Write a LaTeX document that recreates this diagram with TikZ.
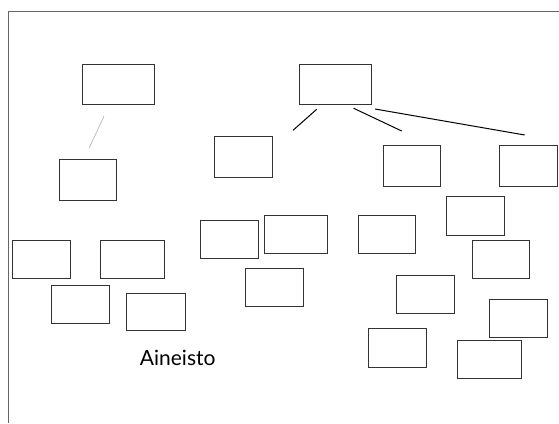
\documentclass[tikz,border=0pt]{standalone}
\usepackage{fontspec}
\newfontfamily\labelfont{Lato}
\usepackage{tikz}
\usetikzlibrary{positioning}
\tikzset{
  box/.style   = {draw=black!80, line width=1pt, inner sep=0pt, minimum width=58pt, minimum height=38pt},
  wide/.style  = {minimum width=72pt, minimum height=40pt},
  line/.style  = {line width=1pt, black},
  faint/.style = {line width=0.8pt, black!25},
  frame/.style = {line width=1pt, black!60},
}
\begin{document}
\begin{tikzpicture}[x=1pt,y=-1pt]
    \useasboundingbox (0,0) rectangle (559,423);
    \draw[frame] (559,11) -- (8,11) -- (8,423);

    % left tree
    \node[box,wide] (lroot) at (118,84) {};
    \node[box,minimum height=41pt,minimum width=57pt] (lmid) at (87.5,179.5) {};
    \node[box] (la) at (41,259) {};
    \node[box,minimum width=64pt] (lb) at (132,259) {};
    \node[box] (lc) at (80,304) {};
    \node[box,minimum width=59pt,minimum height=37pt] (ld) at (155.5,311.5) {};

    % right tree
    \node[box,wide] (rroot) at (335,84) {};
    \node[box,minimum height=41pt] (rmid) at (243,156.5) {};
    \node[box,minimum height=41pt,minimum width=57pt] (rmid2) at (411.5,165.5) {};
    \node[box,minimum height=41pt] (rmid3) at (528,165.5) {};
    \node[box,minimum height=39pt] (ra) at (475,215.5) {};
    \node[box] (rb) at (229,239) {};
    \node[box,minimum width=63pt] (rc) at (295.5,234) {};
    \node[box] (rd) at (274,287) {};
    \node[box,minimum width=57pt] (re) at (386.5,234) {};
    \node[box,minimum width=57pt] (rf) at (500.5,259) {};
    \node[box] (rg) at (425,294) {};
    \node[box] (rh) at (518,318) {};
    \node[box,minimum height=39pt] (ri) at (397,347.5) {};
    \node[box,minimum width=64pt] (rj) at (489,359) {};

    \node[font=\labelfont\fontsize{21}{24}\selectfont] (aineisto) at (177.7,358) {Aineisto};

    % loose connectors
    \coordinate (g1) at (104,116.3);
    \coordinate (g2) at (89,148.3);
    \coordinate (a1) at (316.7,109.3);
    \coordinate (a2) at (293,130.3);
    \coordinate (b1) at (353.7,108.3);
    \coordinate (b2) at (401.7,131);
    \coordinate (c1) at (375,109);
    \coordinate (c2) at (524.7,135);

    \draw[faint] (g1) -- (g2);
    \draw[line] (a1) -- (a2);
    \draw[line] (b1) -- (b2);
    \draw[line] (c1) -- (c2);
\end{tikzpicture}
\end{document}
